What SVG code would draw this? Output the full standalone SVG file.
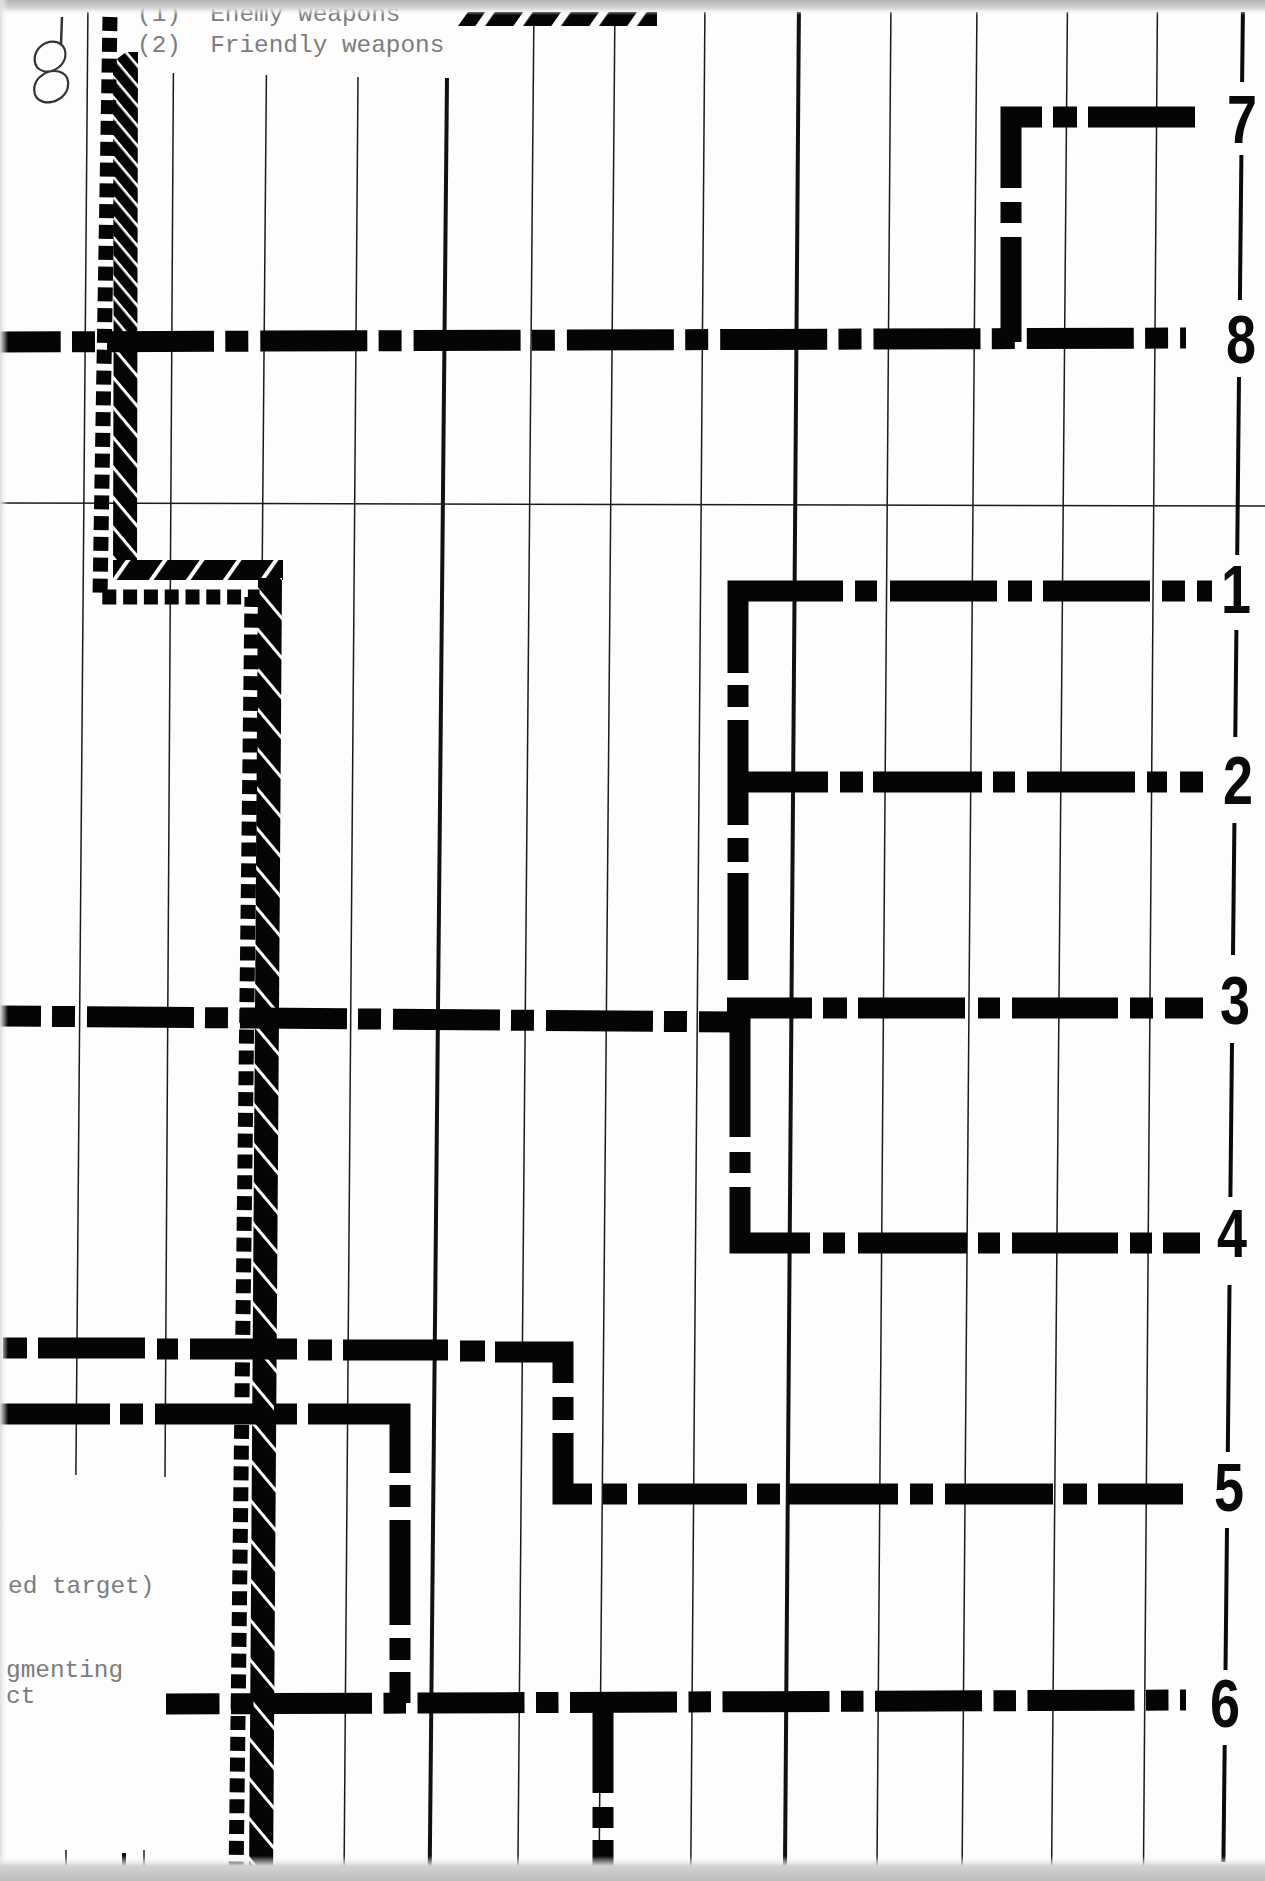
<svg xmlns="http://www.w3.org/2000/svg" width="1265" height="1881" viewBox="0 0 1265 1881">
<style>
.g{stroke:#1a1a1a;stroke-width:1.5;fill:none}
.gt{stroke:#111;stroke-width:4;fill:none}
.dd{stroke:#050505;stroke-width:21;fill:none;stroke-linecap:butt;stroke-linejoin:miter}
.dot{stroke:#050505;stroke-width:15;fill:none;stroke-dasharray:14 6.8}
.num{font-family:"Liberation Sans",Arial,sans-serif;font-weight:bold;font-size:69px;fill:#0a0a0a}
.tw{font-family:"Liberation Mono","Courier New",monospace;font-size:24.4px;fill:#7c7c7c}
</style>
<defs>
<pattern id="pU" patternUnits="userSpaceOnUse" width="40" height="12.86" patternTransform="rotate(50)">
<rect width="40" height="12.86" fill="#050505"/><rect width="40" height="2.6" fill="#fdfdfd"/>
</pattern>
<pattern id="pM" patternUnits="userSpaceOnUse" width="40" height="19.3" patternTransform="rotate(50)">
<rect width="40" height="19.3" fill="#050505"/><rect width="40" height="3" fill="#fdfdfd"/>
</pattern>
<pattern id="pL" patternUnits="userSpaceOnUse" width="40" height="25.7" patternTransform="rotate(50)">
<rect width="40" height="25.7" fill="#050505"/><rect width="40" height="3" fill="#fdfdfd"/>
</pattern>
<pattern id="pH" patternUnits="userSpaceOnUse" width="40" height="30.3" patternTransform="rotate(-55)">
<rect width="40" height="30.3" fill="#050505"/><rect width="40" height="4" fill="#fdfdfd"/>
</pattern>
<pattern id="pLeg" patternUnits="userSpaceOnUse" width="40" height="31.1" patternTransform="rotate(-55)">
<rect width="40" height="31.1" fill="#050505"/><rect width="40" height="8" fill="#fdfdfd"/>
</pattern>
<linearGradient id="topG" x1="0" y1="0" x2="0" y2="1">
<stop offset="0" stop-color="#b4b4b4"/><stop offset="0.55" stop-color="#d6d6d6"/><stop offset="1" stop-color="#fdfdfd" stop-opacity="0"/>
</linearGradient>
<linearGradient id="botG" x1="0" y1="0" x2="0" y2="1">
<stop offset="0" stop-color="#fdfdfd" stop-opacity="0"/><stop offset="0.4" stop-color="#d2d2d2"/><stop offset="1" stop-color="#bdbdbd"/>
</linearGradient>
<linearGradient id="leftG" x1="0" y1="0" x2="1" y2="0">
<stop offset="0" stop-color="#dcdcdc"/><stop offset="1" stop-color="#fdfdfd" stop-opacity="0"/>
</linearGradient>
</defs>

<rect width="1265" height="1881" fill="#fdfdfd"/>

<g id="grid">
<line class="g" x1="87.9" y1="12" x2="75.9" y2="1475"/>
<line class="g" x1="173.4" y1="73" x2="165" y2="1477"/>
<line class="g" x1="266.4" y1="75" x2="251" y2="1881"/>
<line class="g" x1="358" y1="77" x2="344" y2="1881"/>
<line class="gt" x1="447" y1="78" x2="429.6" y2="1881"/>
<line class="g" x1="533.8" y1="25" x2="517.8" y2="1881"/>
<line class="g" x1="614.8" y1="25" x2="599" y2="1881"/>
<line class="g" x1="704.9" y1="12" x2="690.7" y2="1881"/>
<line class="gt" x1="798.9" y1="12" x2="784.9" y2="1881"/>
<line class="g" x1="890.9" y1="12" x2="876.9" y2="1881"/>
<line class="g" x1="976.9" y1="12" x2="962" y2="1881"/>
<line class="g" x1="1067.4" y1="12" x2="1051.5" y2="1881"/>
<line class="g" x1="1157.4" y1="12" x2="1143.4" y2="1881"/>
<line class="g" x1="0" y1="503" x2="1265" y2="506"/>
<g id="border" style="stroke:#0a0a0a;stroke-width:4;fill:none">
<line x1="1242.9" y1="12" x2="1242.1" y2="82"/>
<line x1="1241.4" y1="155" x2="1239.9" y2="300"/>
<line x1="1239" y1="377" x2="1237.2" y2="555"/>
<line x1="1236.4" y1="630" x2="1235.3" y2="737"/>
<line x1="1234.4" y1="823" x2="1233" y2="955"/>
<line x1="1232" y1="1043" x2="1230.4" y2="1197"/>
<line x1="1229.5" y1="1285" x2="1227.8" y2="1452"/>
<line x1="1227" y1="1528" x2="1225.5" y2="1670"/>
<line x1="1224.7" y1="1745" x2="1223.4" y2="1862"/>
</g>
<line class="g" x1="66" y1="1850" x2="66" y2="1872"/>
<line x1="124" y1="1853" x2="124" y2="1870" stroke="#111" stroke-width="4"/>
<line class="g" x1="144" y1="1850" x2="144" y2="1870"/>
</g>

<g id="band">
<polygon points="113,62 126,52 138,52 137.4,330 113.6,330" fill="url(#pU)"/>
<polygon points="113.6,330 137.4,330 137,580 113,580" fill="url(#pM)"/>
<rect x="113" y="560" width="170" height="20" fill="url(#pH)"/>
<polygon points="258,578 282,578 273,1881 249,1881" fill="url(#pL)"/>
<path class="dot" d="M110 17 L100 597 L252 597 L236 1881"/>
</g>

<g id="connectors">
<path id="line8" class="dd" d="M0 342 L1186 338" stroke-dasharray="107 11.3 23 12" stroke-dashoffset="46.3"/>
<path id="line7" class="dd" d="M1011 342 V117 H1195" stroke-dasharray="105 14 21 14 102 11 24 11 107"/>
<path id="bracket" class="dd" d="M843 591 H738 V673 M855 591 H877 M890 591 H997 M1008 591 H1032 M1043 591 H1150 M1162 591 H1185 M1197 591 H1212 M738 685 V707 M738 720 V825 M738 838 V862 M738 873 V980 M738 782 H828 M840 782 H863 M873 782 H982 M993 782 H1015 M1027 782 H1135 M1147 782 H1167 M1180 782 H1203 M727 1008 H812 M823 1008 H847 M858 1008 H965 M978 1008 H1000 M1012 1008 H1118 M1130 1008 H1153 M1165 1008 H1203 M740 1008 V1137 M740 1152 V1173 M740 1187 V1243 H810 M823 1243 H845 M858 1243 H967 M978 1243 H1000 M1012 1243 H1118 M1130 1243 H1152 M1163 1243 H1200"/>
<path id="line3left" class="dd" d="M0 1016 L738 1022" stroke-dasharray="107 11 23 12" stroke-dashoffset="66"/>
<path id="line5" class="dd" d="M3 1348 H27 M38 1348 H145 M157 1349 H178 M190 1349 H297 M308 1350 H332 M343 1350 H448 M460 1351 H485 M495 1352 H563 V1383 M563 1397 V1420 M563 1433 V1494 H592 M603 1494 H627 M638 1494 H747 M757 1494 H780 M788 1494 H898 M910 1494 H933 M945 1494 H1053 M1063 1494 H1087 M1098 1494 H1183"/>
<path id="line6route" class="dd" d="M0 1414 H110 M120 1414 H143 M155 1414 H262 M274 1414 H297 M308 1414 H400 V1473 M400 1485 V1507 M400 1520 V1625 M400 1638 V1660 M400 1672 V1703"/>
<path id="line6" class="dd" d="M166 1704 L1186 1700" stroke-dasharray="107 11.5 22.5 11.5" stroke-dashoffset="53.5"/>
<path id="tee" class="dd" d="M603 1703 V1793 M603 1807 V1828 M603 1840 V1870"/>
</g>

<g id="labels">
<text class="num" x="1227" y="143" textLength="30" lengthAdjust="spacingAndGlyphs">7</text>
<text class="num" x="1226" y="363" textLength="30" lengthAdjust="spacingAndGlyphs">8</text>
<text class="num" x="1221" y="613" textLength="30" lengthAdjust="spacingAndGlyphs">1</text>
<text class="num" x="1223" y="804" textLength="30" lengthAdjust="spacingAndGlyphs">2</text>
<text class="num" x="1220" y="1024" textLength="30" lengthAdjust="spacingAndGlyphs">3</text>
<text class="num" x="1217" y="1257" textLength="30" lengthAdjust="spacingAndGlyphs">4</text>
<text class="num" x="1214" y="1511" textLength="30" lengthAdjust="spacingAndGlyphs">5</text>
<text class="num" x="1210" y="1727" textLength="30" lengthAdjust="spacingAndGlyphs">6</text>
</g>

<g id="legend">
<text class="tw" x="137" y="21" xml:space="preserve">(1)  Enemy weapons</text>
<text class="tw" x="137" y="52" xml:space="preserve">(2)  Friendly weapons</text>
<polygon points="458,26 468,12 657,12 657,26" fill="url(#pLeg)"/>
</g>

<g id="notes">
<text class="tw" x="8" y="1593">ed target)</text>
<text class="tw" x="6" y="1677">gmenting</text>
<text class="tw" x="6" y="1703">ct</text>
</g>

<g id="handmark">
<line x1="62" y1="17" x2="61" y2="44" stroke="#333" stroke-width="2.5"/>
<text x="28" y="102" font-family="Roboto, 'DejaVu Sans', sans-serif" font-weight="100" font-style="italic" font-size="84" fill="#333" transform="rotate(-12 50 75)">8</text>
</g>

<g id="scan">
<rect x="0" y="0" width="1265" height="15" fill="url(#topG)"/>
<rect x="0" y="0" width="8" height="1881" fill="url(#leftG)"/>
<rect x="0" y="1856" width="1265" height="25" fill="url(#botG)"/>
</g>
</svg>
